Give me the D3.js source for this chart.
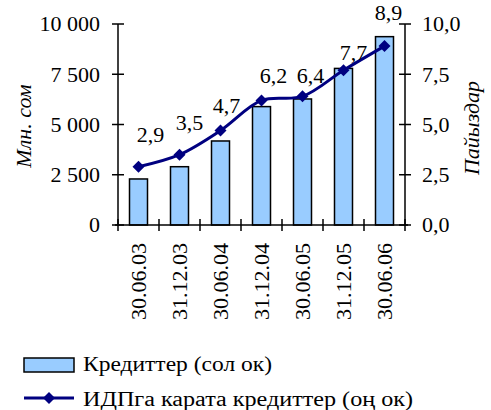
<!DOCTYPE html>
<html>
<head>
<meta charset="utf-8">
<script src="https://cdn.jsdelivr.net/npm/d3@7"></script>
<style>
  html, body { margin: 0; padding: 0; background: #fff; }
</style>
</head>
<body>
<svg id="chart" width="491" height="410"></svg>
<script>
// Loan portfolio (mln som) and loans to GDP ratio (%)
const categories = ["30.06.03", "31.12.03", "30.06.04", "31.12.04", "30.06.05", "31.12.05", "30.06.06"];
const credits = [2290, 2900, 4180, 5890, 6270, 7790, 9370];
const creditsToGdp = [2.9, 3.5, 4.7, 6.2, 6.4, 7.7, 8.9];
const leftTicks = [0, 2500, 5000, 7500, 10000];
const rightTicks = [0, 2.5, 5, 7.5, 10];
const legendLabels = ["Кредиттер (сол ок)", "ИДПга карата кредиттер (оң ок)"];

// Data label nudges (px) relative to each marker
const labelDx = [12, 10, 6, 12, 8, 10, 4];
const labelDy = [-25, -25, -18, -17, -13, -10, -26];

const FONT = "'Liberation Serif', 'Times New Roman', serif";
const fmtLeft = v => d3.format(",")(v).replace(/,/g, "\u00a0");
const fmtRight = v => d3.format(".1f")(v).replace(".", ",");

const svg = d3.select("#chart").attr("font-family", FONT);
const plot = { left: 118, right: 405, top: 24, bottom: 225 };

const xc = d3.scaleBand().domain(categories).range([plot.left, plot.right]);
const yL = d3.scaleLinear().domain([0, 10000]).range([plot.bottom, plot.top]);
const yR = d3.scaleLinear().domain([0, 10]).range([plot.bottom, plot.top]);
const cx = c => xc(c) + xc.bandwidth() / 2;
const barW = 18;

// Bars
svg.append("g").selectAll("rect").data(credits).join("rect")
  .attr("x", (d, i) => cx(categories[i]) - barW / 2)
  .attr("width", barW)
  .attr("y", d => yL(d))
  .attr("height", d => yL(0) - yL(d))
  .attr("fill", "#99ccff")
  .attr("stroke", "#000")
  .attr("stroke-width", 1.5);

// Axes with crossing tick marks
const tickLen = 6;
const axisG = svg.append("g").attr("stroke", "#000").attr("stroke-width", 1.5);
axisG.append("line").attr("x1", plot.left).attr("x2", plot.left).attr("y1", plot.top).attr("y2", plot.bottom);
axisG.append("line").attr("x1", plot.right).attr("x2", plot.right).attr("y1", plot.top).attr("y2", plot.bottom);
axisG.append("line").attr("x1", plot.left - 3).attr("x2", plot.right + 3).attr("y1", plot.bottom).attr("y2", plot.bottom);
axisG.selectAll(".tl").data(leftTicks).join("line")
  .attr("x1", plot.left - tickLen).attr("x2", plot.left + tickLen)
  .attr("y1", d => yL(d)).attr("y2", d => yL(d));
axisG.selectAll(".tr").data(rightTicks).join("line")
  .attr("x1", plot.right - tickLen).attr("x2", plot.right + tickLen)
  .attr("y1", d => yR(d)).attr("y2", d => yR(d));
const xTickPos = categories.map(c => xc(c)).concat([plot.right]);
axisG.selectAll(".tx").data(xTickPos).join("line")
  .attr("x1", d => d).attr("x2", d => d)
  .attr("y1", plot.bottom - tickLen).attr("y2", plot.bottom + tickLen);

const fs = 22;
svg.append("g").selectAll("text").data(leftTicks).join("text")
  .attr("x", plot.left - 18).attr("y", d => yL(d)).attr("dy", "0.34em")
  .attr("text-anchor", "end").attr("font-size", fs)
  .text(fmtLeft);
svg.append("g").selectAll("text").data(rightTicks).join("text")
  .attr("x", plot.right + 17).attr("y", d => yR(d)).attr("dy", "0.34em")
  .attr("text-anchor", "start").attr("font-size", fs)
  .text(fmtRight);
svg.append("g").selectAll("text").data(categories).join("text")
  .attr("transform", c => `translate(${cx(c)},243) rotate(-90)`)
  .attr("dy", "0.34em")
  .attr("text-anchor", "end").attr("font-size", fs)
  .text(d => d);

// Axis titles
svg.append("text").attr("transform", "translate(31,126) rotate(-90)")
  .attr("text-anchor", "middle").attr("font-size", fs).attr("font-style", "italic")
  .text("Млн. сом");
svg.append("text").attr("transform", "translate(479,128) rotate(-90)")
  .attr("text-anchor", "middle").attr("font-size", fs).attr("font-style", "italic")
  .text("Пайыздар");

// Ratio line (smoothed) with diamond markers
const px = (d, i) => cx(categories[i]);
const line = d3.line().x(px).y(d => yR(d)).curve(d3.curveCatmullRom.alpha(0.5));
svg.append("path").datum(creditsToGdp).attr("d", line)
  .attr("fill", "none").attr("stroke", "#000080").attr("stroke-width", 3);
const marker = d3.symbol().type(d3.symbolSquare).size(72);
svg.append("g").selectAll("path").data(creditsToGdp).join("path")
  .attr("transform", (d, i) => `translate(${px(d, i)},${yR(d)}) rotate(45)`)
  .attr("d", marker).attr("fill", "#000080");

// Data labels
svg.append("g").selectAll("text").data(creditsToGdp).join("text")
  .attr("x", (d, i) => px(d, i) + labelDx[i])
  .attr("y", (d, i) => yR(d) + labelDy[i])
  .attr("text-anchor", "middle").attr("font-size", fs)
  .text(d => fmtRight(d));

// Legend
const lg = svg.append("g");
lg.append("rect").attr("x", 24).attr("y", 358).attr("width", 50).attr("height", 14)
  .attr("fill", "#99ccff").attr("stroke", "#000").attr("stroke-width", 1.5);
lg.append("text").attr("x", 83).attr("y", 371).attr("font-size", 20)
  .attr("textLength", 189).attr("lengthAdjust", "spacingAndGlyphs")
  .text(legendLabels[0]);
lg.append("line").attr("x1", 24).attr("x2", 74).attr("y1", 398).attr("y2", 398)
  .attr("stroke", "#000080").attr("stroke-width", 3);
lg.append("path").attr("transform", "translate(49,398) rotate(45)").attr("d", marker).attr("fill", "#000080");
lg.append("text").attr("x", 83).attr("y", 406).attr("font-size", 20)
  .attr("textLength", 330).attr("lengthAdjust", "spacingAndGlyphs")
  .text(legendLabels[1]);
</script>
</body>
</html>
